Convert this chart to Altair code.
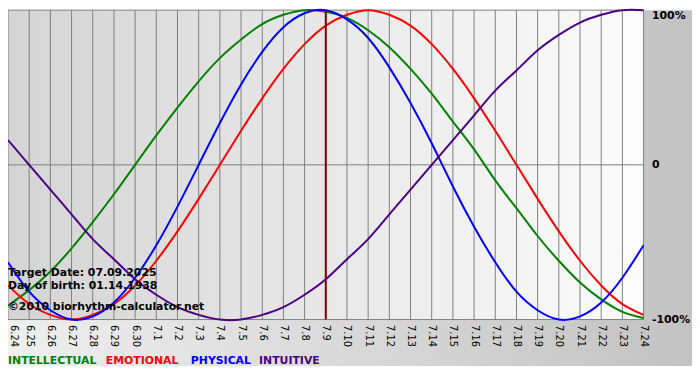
import altair as alt
import pandas as pd

# ---- data ----
days = ["6.24", "6.25", "6.26", "6.27", "6.28", "6.29", "6.30", "7.1", "7.2", "7.3",
        "7.4", "7.5", "7.6", "7.7", "7.8", "7.9", "7.10", "7.11", "7.12", "7.13",
        "7.14", "7.15", "7.16", "7.17", "7.18", "7.19", "7.20", "7.21", "7.22", "7.23", "7.24"]

intellectual = [-0.91, -0.81, -0.69, -0.54, -0.37, -0.19, 0.00, 0.19, 0.37, 0.54,
                0.69, 0.81, 0.91, 0.97, 1.00, 0.99, 0.95, 0.87, 0.76, 0.62,
                0.46, 0.28, 0.10, -0.10, -0.28, -0.46, -0.62, -0.76, -0.87, -0.95, -0.99]
emotional = [-0.78, -0.90, -0.97, -1.00, -0.97, -0.90, -0.78, -0.62, -0.43, -0.22,
             0.00, 0.22, 0.43, 0.62, 0.78, 0.90, 0.97, 1.00, 0.97, 0.90,
             0.78, 0.62, 0.43, 0.22, 0.00, -0.22, -0.43, -0.62, -0.78, -0.90, -0.97]
physical = [-0.63, -0.82, -0.94, -1.00, -0.98, -0.89, -0.73, -0.52, -0.27, 0.00,
            0.27, 0.52, 0.73, 0.89, 0.98, 1.00, 0.94, 0.82, 0.63, 0.40,
            0.14, -0.14, -0.40, -0.63, -0.82, -0.94, -1.00, -0.98, -0.89, -0.73, -0.52]
intuitive = [0.16, 0.00, -0.16, -0.32, -0.48, -0.61, -0.74, -0.84, -0.92, -0.97,
             -1.00, -1.00, -0.97, -0.92, -0.84, -0.74, -0.61, -0.48, -0.32, -0.16,
             0.00, 0.16, 0.32, 0.48, 0.61, 0.74, 0.84, 0.92, 0.97, 1.00, 1.00]

series_names = ["INTELLECTUAL", "EMOTIONAL", "PHYSICAL", "INTUITIVE"]
series_values = [intellectual, emotional, physical, intuitive]
series_colors = ["#008000", "#ff0000", "#0000ff", "#4b0082"]

target_day = "7.9"
y_levels = [-1, 0, 1]
y_labels = ["-100%", "0", "100%"]
info_lines = ["Target Date: 07.09.2025", "Day of birth: 01.14.1938", "\u00a92010 biorhythm-calculator.net"]

# ---- layout / style ----
W, H = 643, 313
FONT = "DejaVu Sans"
GRID = "#808080"

x_scale = alt.Scale(domain=days, type="point", padding=0)
y_scale = alt.Scale(domain=[-1, 1])
x_axis = alt.Axis(labelAngle=90, labelAlign="left", labelBaseline="middle",
                  labelFont=FONT, labelFontSize=10, labelColor="#000000",
                  labelPadding=5, labelOverlap=False, domain=False, ticks=False,
                  labelOffset={"condition": {"test": f"datum.value == '{days[0]}'", "value": 6}, "value": 0},
                  grid=False, title=None, zindex=2)
label_expr = " : ".join(f"datum.value == {v} ? '{t}'" for v, t in zip(y_levels, y_labels)) + " : ''"
y_axis = alt.Axis(orient="right", values=y_levels, labelExpr=label_expr,
                  labelFont=FONT, labelFontSize=11, labelFontWeight="bold",
                  labelColor="#000000", labelPadding=8, labelFlush=False,
                  labelOffset={"condition": {"test": "datum.value == 1", "value": 5}, "value": 0},
                  domain=False, ticks=False, grid=False, title=None, zindex=2)

X = lambda: alt.X("day:O", scale=x_scale, sort=days, axis=x_axis)
Y = lambda: alt.Y("value:Q", scale=y_scale, axis=y_axis)

one = alt.Data(values=[{}])

outer_bg = alt.Chart(one).mark_rect(
    fill={"gradient": "linear", "x1": 0, "y1": 0, "x2": 1, "y2": 0,
          "stops": [{"offset": 0, "color": "#efefef"}, {"offset": 1, "color": "#c2c2c2"}]}
).encode(x=alt.value(0), x2=alt.value(700), y=alt.value(0), y2=alt.value(360))

plot_bg = alt.Chart(one).mark_rect(
    fill={"gradient": "linear", "x1": 0, "y1": 0, "x2": 1, "y2": 0,
          "stops": [{"offset": 0, "color": "#d4d4d4"}, {"offset": 1, "color": "#fcfcfc"}]}
).encode(x=alt.value(0), x2=alt.value(W), y=alt.value(0), y2=alt.value(H))

vgrid = alt.Chart(pd.DataFrame({"day": days})).mark_rule(
    color=GRID, strokeWidth=1).encode(x=X())

hgrid = alt.Chart(pd.DataFrame({"value": y_levels})).mark_rule(
    color=GRID, strokeWidth=1).encode(y=Y())

lines = []
for name, vals, col in zip(series_names, series_values, series_colors):
    df = pd.DataFrame({"day": days, "value": vals})
    lines.append(alt.Chart(df).mark_line(color=col, strokeWidth=2, interpolate="natural")
                 .encode(x=X(), y=Y()))

target = alt.Chart(pd.DataFrame({"day": [target_day]})).mark_rule(
    color="#800000", strokeWidth=2).encode(x=X())

info_y = [269, 282, 303]
infos = []
for txt, yy in zip(info_lines, info_y):
    infos.append(alt.Chart(one).mark_text(
        align="left", baseline="alphabetic", font=FONT, fontSize=11,
        fontWeight="bold", color="#000000", text=txt
    ).encode(x=alt.value(0), y=alt.value(yy)))

legend_x = [0, 99, 185, 254]
legend = []
for name, col, xx in zip(series_names, series_colors, legend_x):
    legend.append(alt.Chart(one).mark_text(
        align="left", baseline="alphabetic", font=FONT, fontSize=11,
        fontWeight="bold", color=col, text=name
    ).encode(x=alt.value(xx), y=alt.value(358)))

chart = alt.layer(
    outer_bg, plot_bg, vgrid, hgrid, *lines, target, *infos, *legend
).properties(
    width=W, height=H,
    autosize=alt.AutoSizeParams(type="none"),
    padding={"left": 0, "top": 0, "right": 49, "bottom": 59},
).configure(background="#ffffff").configure_view(strokeWidth=0)

chart.save("out.html", embed_options={"renderer": "svg", "actions": False})
